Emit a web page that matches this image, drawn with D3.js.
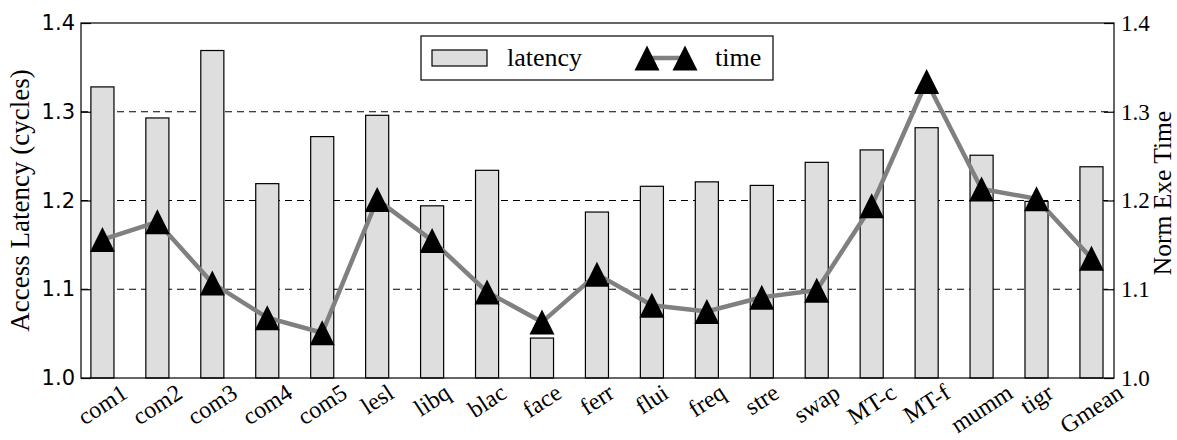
<!DOCTYPE html>
<html><head><meta charset="utf-8">
<script src="https://cdn.jsdelivr.net/npm/d3@7"></script>
<style>body{margin:0;background:#fff}</style></head>
<body><svg id="c" width="1177" height="440"></svg>
<script>
const categories = ["com1","com2","com3","com4","com5","lesl","libq","blac","face","ferr","flui","freq","stre","swap","MT-c","MT-f","mumm","tigr","Gmean"];
const latency = [1.328,1.293,1.369,1.219,1.272,1.296,1.194,1.234,1.045,1.187,1.216,1.221,1.217,1.243,1.257,1.282,1.251,1.199,1.238];
const time = [1.156,1.176,1.107,1.068,1.051,1.201,1.155,1.097,1.063,1.117,1.082,1.075,1.091,1.099,1.194,1.334,1.213,1.202,1.135];
const yTicks = [1.0,1.1,1.2,1.3,1.4];
const gridTicks = [1.1,1.2,1.3];
const leftTitle = "Access Latency (cycles)";
const rightTitle = "Norm Exe Time";
const legendLabels = ["latency","time"];

const SERIF = "'Liberation Serif','Times New Roman',serif";
const SANS = "'DejaVu Sans',sans-serif";
const L = 81, R = 1114, T = 23, B = 378;
const svg = d3.select("#c");
const x = d3.scaleLinear().domain([-0.39, 18.41]).range([L, R]);
const y = d3.scaleLinear().domain([1.0, 1.4]).range([B, T]);
const y2 = d3.scaleLinear().domain([1.0, 1.4]).range([B, T]);
const bw = 0.42;

// gridlines
svg.append("g").selectAll("line").data(gridTicks).join("line")
  .attr("x1", L).attr("x2", R).attr("y1", d => y(d)).attr("y2", d => y(d))
  .attr("stroke", "#000").attr("stroke-width", 1).attr("stroke-dasharray", "7,5");

// bars
svg.append("g").selectAll("rect").data(latency).join("rect")
  .attr("x", (d, i) => x(i - bw / 2)).attr("width", x(bw) - x(0))
  .attr("y", d => y(d)).attr("height", d => B - y(d))
  .attr("fill", "#dedede").attr("stroke", "#000").attr("stroke-width", 1.2);

// line
svg.append("path").datum(time)
  .attr("d", d3.line().x((d, i) => x(i)).y(d => y2(d)))
  .attr("fill", "none").attr("stroke", "#808080").attr("stroke-width", 4.5);

const tri = d3.symbol().type({draw(ctx, s){ const h = 12.5; ctx.moveTo(0,-h); ctx.lineTo(h,h); ctx.lineTo(-h,h); ctx.closePath(); }});
svg.append("g").selectAll("path").data(time).join("path")
  .attr("d", tri()).attr("transform", (d, i) => `translate(${x(i)},${y2(d)})`)
  .attr("fill", "#000");

// frame
svg.append("rect").attr("x", L).attr("y", T).attr("width", R - L).attr("height", B - T)
  .attr("fill", "none").attr("stroke", "#000").attr("stroke-width", 1.2);

// left axis
const gl = svg.append("g").attr("transform", `translate(${L},0)`)
  .call(d3.axisLeft(y).tickValues(yTicks).tickFormat(d3.format(".1f")).tickSizeInner(-10).tickSizeOuter(0).tickPadding(6));
gl.select(".domain").remove();
gl.selectAll("line").attr("stroke-width", 1.2);
gl.selectAll("text").attr("font-family", SANS).attr("font-size", 21).attr("fill", "#000");
// right axis
const gr = svg.append("g").attr("transform", `translate(${R},0)`)
  .call(d3.axisRight(y2).tickValues(yTicks).tickFormat(d3.format(".1f")).tickSizeInner(-10).tickSizeOuter(0).tickPadding(7));
gr.select(".domain").remove();
gr.selectAll("line").attr("stroke-width", 1.2);
gr.selectAll("text").attr("font-family", SERIF).attr("font-size", 23).attr("fill", "#000");

// x labels
const xl = svg.append("g");
const fs = 24, ang = 33;
categories.forEach((c, i) => {
  const t = xl.append("text").text(c).attr("font-family", SERIF).attr("font-size", fs)
    .attr("text-anchor", "middle").attr("dominant-baseline", "central");
  const Lw = t.node().getComputedTextLength();
  const h = fs * 0.9;
  const a = ang * Math.PI / 180;
  const bh = Lw * Math.sin(a) + h * Math.cos(a);
  const cx = x(i), cy = B + 3 + bh / 2;
  t.attr("x", cx).attr("y", cy).attr("transform", `rotate(${-ang},${cx},${cy})`);
});

// axis titles
svg.append("text").text(leftTitle).attr("font-family", SERIF).attr("font-size", 27)
  .attr("text-anchor", "middle").attr("transform", `translate(29,${(T + B) / 2}) rotate(-90)`);
svg.append("text").text(rightTitle).attr("font-family", SERIF).attr("font-size", 25.5)
  .attr("text-anchor", "middle").attr("transform", `translate(1171,193) rotate(-90)`);

// legend
const lg = svg.append("g");
lg.append("rect").attr("x", 421).attr("y", 36).attr("width", 352).attr("height", 44)
  .attr("fill", "#fff").attr("stroke", "#000").attr("stroke-width", 1.2);
lg.append("rect").attr("x", 432).attr("y", 50).attr("width", 55).attr("height", 16)
  .attr("fill", "#dedede").attr("stroke", "#000").attr("stroke-width", 1.2);
lg.append("text").text(legendLabels[0]).attr("x", 507).attr("y", 66).attr("font-family", SERIF).attr("font-size", 26);
lg.append("line").attr("x1", 647).attr("x2", 685).attr("y1", 58).attr("y2", 58).attr("stroke", "#808080").attr("stroke-width", 4.5);
[647, 685].forEach(px => lg.append("path").attr("d", tri()).attr("transform", `translate(${px},58)`).attr("fill", "#000"));
lg.append("text").text(legendLabels[1]).attr("x", 715).attr("y", 66).attr("font-family", SERIF).attr("font-size", 26);
</script>
</body></html>
